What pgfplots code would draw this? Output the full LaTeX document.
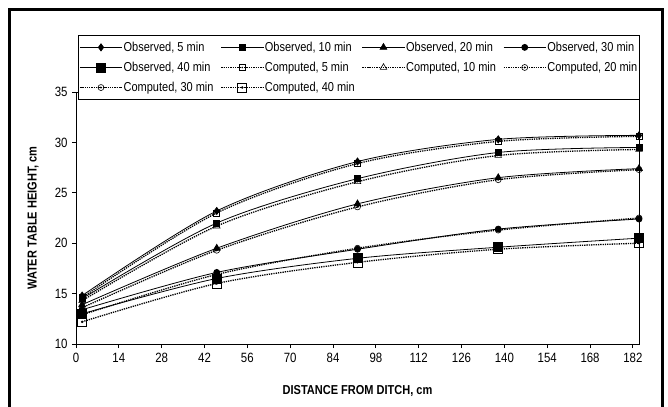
\documentclass[border=0pt]{standalone}
\usepackage{fontspec}
\setmainfont{Liberation Sans}[FakeStretch=0.85]
\usepackage{pgfplots}
\usepackage{pgfplotstable}
\pgfplotsset{compat=1.18}

\pgfdeclareplotmark{sqdot}{%
  \pgfpathrectangle{\pgfpoint{-\pgfplotmarksize}{-\pgfplotmarksize}}{\pgfpoint{2\pgfplotmarksize}{2\pgfplotmarksize}}%
  \pgfusepathqstroke
  \pgfpathcircle{\pgfpointorigin}{0.3\pgfplotmarksize}\pgfusepathqfill}
\pgfdeclareplotmark{circdot}{%
  \pgfpathcircle{\pgfpointorigin}{\pgfplotmarksize}\pgfusepathqstroke
  \pgfpathcircle{\pgfpointorigin}{0.35\pgfplotmarksize}\pgfusepathqfill}

\pgfplotstableread{
x   obsA obsB obsC obsD obsE comA comB comC comD comE
2   14.8 14.5 13.9 13.4 13.0 14.6 14.3 13.6 12.9 12.2
46  23.2 22.0 19.5 17.1 16.5 23.0 21.7 19.3 16.9 16.0
92  28.1 26.4 23.9 19.4 18.5 27.9 26.1 23.6 19.5 18.1
138 30.3 29.0 26.5 21.4 19.6 30.1 28.7 26.3 21.3 19.4
184 30.7 29.5 27.4 22.4 20.5 30.6 29.3 27.3 22.5 20.0
}\datatable

\begin{document}
\begin{tikzpicture}
\useasboundingbox (0,0) rectangle (668bp,407bp);
\begin{axis}[
  at={(76bp,63bp)}, anchor=south west,
  scale only axis, width=563bp, height=252bp,
  xmin=0, xmax=184, ymin=10, ymax=35,
  xtick={0,14,...,182}, ytick={10,15,...,35},
  tick align=outside, tick pos=left,
  major tick length=4bp,
  axis line style={line width=0.8bp},
  every tick/.style={line width=0.8bp, black},
  /pgf/number format/assume math mode=true,
  ticklabel style={font=\fontsize{13.5}{15}\selectfont},
  xticklabel style={yshift=-2bp},
  yticklabel style={xshift=-1bp},
  xlabel={DISTANCE FROM DITCH, cm},
  ylabel={WATER TABLE HEIGHT, cm},
  every axis x label/.style={at={(axis description cs:0.5,-0.1865)}, anchor=center, font=\bfseries\fontsize{13}{14}\selectfont},
  every axis y label/.style={at={(axis description cs:-0.0764,0.5)}, anchor=center, rotate=90, font=\bfseries\fontsize{13}{14}\selectfont},
  legend columns=4,
  legend cell align=left,
  legend style={at={(axis description cs:0.0036,1.226)}, anchor=north west,
    draw=black, line width=0.6bp, fill=white,
    font=\fontsize{13}{14}\selectfont, row sep=0bp,
    inner xsep=1bp, inner ysep=2bp,
    nodes={inner xsep=1bp, inner ysep=4.6bp},
    /tikz/every even column/.append style={column sep=6bp},
    /tikz/every odd column/.append style={column sep=0bp}},
  legend image code/.code={%
    \draw[mark repeat=2, mark phase=2] plot coordinates {(0bp,0bp) (21bp,0bp) (42bp,0bp)};},
  every axis plot/.append style={black, smooth, tension=0.5},
]
\addplot[line width=0.8bp, mark=diamond*, mark size=3.5bp, mark options={solid}] table[x=x,y=obsA]{\datatable};
\addlegendentry{Observed, 5 min}
\addplot[line width=0.8bp, mark=square*, mark size=3bp, mark options={solid}] table[x=x,y=obsB]{\datatable};
\addlegendentry{Observed, 10 min}
\addplot[line width=0.8bp, mark=triangle*, mark size=3.8bp, mark options={solid}] table[x=x,y=obsC]{\datatable};
\addlegendentry{Observed, 20 min}
\addplot[line width=0.8bp, mark=*, mark size=3bp, mark options={solid}] table[x=x,y=obsD]{\datatable};
\addlegendentry{Observed, 30 min}
\addplot[line width=0.8bp, mark=square*, mark size=4.5bp, mark options={solid}] table[x=x,y=obsE]{\datatable};
\addlegendentry{Observed, 40 min}
\addplot[line width=1.3bp, densely dotted, mark=sqdot, mark size=3bp, mark options={solid, line width=0.6bp}] table[x=x,y=comA]{\datatable};
\addlegendentry{Computed, 5 min}
\addplot[line width=1.3bp, densely dotted, mark=triangle, mark size=3.8bp, mark options={solid, line width=0.6bp}] table[x=x,y=comB]{\datatable};
\addlegendentry{Computed, 10 min}
\addplot[line width=1.3bp, densely dotted, mark=circdot, mark size=3bp, mark options={solid, line width=0.6bp}] table[x=x,y=comC]{\datatable};
\addlegendentry{Computed, 20 min}
\addplot[line width=1.3bp, densely dotted, mark=circdot, mark size=3bp, mark options={solid, line width=0.6bp}] table[x=x,y=comD]{\datatable};
\addlegendentry{Computed, 30 min}
\addplot[line width=1.3bp, densely dotted, mark=sqdot, mark size=4.5bp, mark options={solid, line width=0.6bp}] table[x=x,y=comE]{\datatable};
\addlegendentry{Computed, 40 min}
\end{axis}
\draw[line width=3bp] (9.5bp,-10bp) rectangle (662bp,397.5bp);
\end{tikzpicture}
\end{document}
